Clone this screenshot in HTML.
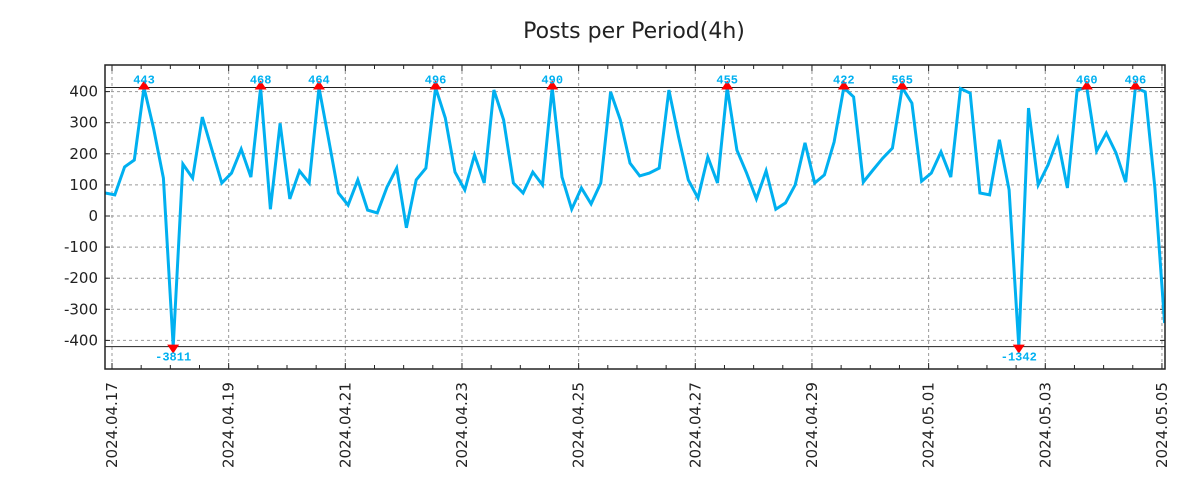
<!DOCTYPE html>
<html><head><meta charset="utf-8"><style>
body{margin:0;background:#fff;}
svg{display:block;font-family:"DejaVu Sans","Liberation Sans",sans-serif;}
</style></head><body>
<svg id="chart" width="1200" height="500"></svg>
<script>
const values=[74,68,158,180,443,280,122,-3811,167,122,318,212,106,138,215,125,468,22,298,55,145,106,464,245,74,35,116,19,10,93,154,-38,116,154,496,315,141,84,196,106,405,309,106,74,141,100,490,125,22,90,39,106,399,309,170,129,138,154,405,254,116,58,190,106,455,212,138,55,145,22,42,100,235,106,132,238,422,383,109,148,186,218,565,363,112,138,206,125,410,395,74,68,245,84,-1342,347,100,164,248,90,405,460,209,267,203,109,496,399,90,-344];
const yTicks=[-400,-300,-200,-100,0,100,200,300,400];
const xLabels=["2024.04.17","2024.04.19","2024.04.21","2024.04.23","2024.04.25","2024.04.27","2024.04.29","2024.05.01","2024.05.03","2024.05.05"];
const upperClip=413, lowerClip=-420;
const L=105,R=1165,T=65,B=369;
const NS="http://www.w3.org/2000/svg";
const svg=document.getElementById('chart');
function y(v){return 216-v*0.311;}
function xi(i){return 144+(i-4)*9.72;}
function xDay(d){return 112+d*58.33;}
function mk(t,a,p){const e=document.createElementNS(NS,t);for(const k in a)e.setAttribute(k,a[k]);(p||svg).appendChild(e);return e;}
const title=mk('text',{x:634,y:38,'text-anchor':'middle','font-size':22,fill:'#222'});
title.textContent='Posts per Period(4h)';


yTicks.forEach(v=>{
 const g=mk('line',{x1:L,x2:R,y1:y(v),y2:y(v),stroke:'#999','stroke-dasharray':'3,3','stroke-width':1});
 
 
 mk('line',{x1:L,x2:L+5,y1:y(v),y2:y(v),stroke:'#222'});
 mk('line',{x1:R-5,x2:R,y1:y(v),y2:y(v),stroke:'#222'});
 const t=mk('text',{x:98,y:y(v)+5,'text-anchor':'end','font-size':15,fill:'#222'});
 t.textContent=v;
 
 
});
xLabels.forEach((lab,k)=>{
 const x=xDay(k*2);
 const g=mk('line',{x1:x,x2:x,y1:T,y2:B,stroke:'#999','stroke-dasharray':'3,3','stroke-width':1});
 
 
 const t=mk('text',{transform:`translate(${x+5},${B+99}) rotate(-90)`,'font-size':15,fill:'#222'});
 t.textContent=lab;
 
 
});
for(let h=0;h<=36;h++){const x=xDay(h/2);if(x>R)break;const len=h%4==0?6:4;
 mk('line',{x1:x,x2:x,y1:B,y2:B-len,stroke:'#222'});mk('line',{x1:x,x2:x,y1:T,y2:T+len,stroke:'#222'});}
const cu=mk('line',{x1:L,x2:R,y1:y(upperClip),y2:y(upperClip),stroke:'#222','stroke-width':1});


const cl=mk('line',{x1:L,x2:R,y1:y(lowerClip),y2:y(lowerClip),stroke:'#222','stroke-width':1});


mk('clipPath',{id:'pc'});
mk('rect',{x:L,y:T,width:R-L,height:B-T},svg.lastChild);
const pts=values.map((v,i)=>xi(i).toFixed(1)+','+y(Math.max(lowerClip,Math.min(upperClip,v))).toFixed(1)).join(' ');
const line=mk('polyline',{points:pts,fill:'none',stroke:'#00b0f0','stroke-width':3,'stroke-linejoin':'miter','clip-path':'url(#pc)'});


values.forEach((v,i)=>{
 const x=xi(i);
 if(v>upperClip){const yy=y(upperClip);
  const m=mk('polygon',{points:`${x-6},${yy+2} ${x+6},${yy+2} ${x},${yy-7}`,fill:'#f00'});
  
  
  const t=mk('text',{x:x,y:yy-4,'text-anchor':'middle','font-size':12,'font-weight':'bold',fill:'#00b0f0','font-family':'Liberation Mono,monospace'});
  t.textContent=v;
  
  
 } else if(v<lowerClip){const yy=y(lowerClip);
  const m=mk('polygon',{points:`${x-6},${yy-2} ${x+6},${yy-2} ${x},${yy+7}`,fill:'#f00'});
  
  
  const t=mk('text',{x:x,y:yy+14,'text-anchor':'middle','font-size':12,'font-weight':'bold',fill:'#00b0f0','font-family':'Liberation Mono,monospace'});
  t.textContent=v;
  
  
 }
});
const fr=mk('rect',{x:L,y:T,width:R-L,height:B-T,fill:'none',stroke:'#222','stroke-width':1.5});


</script>
</body></html>
